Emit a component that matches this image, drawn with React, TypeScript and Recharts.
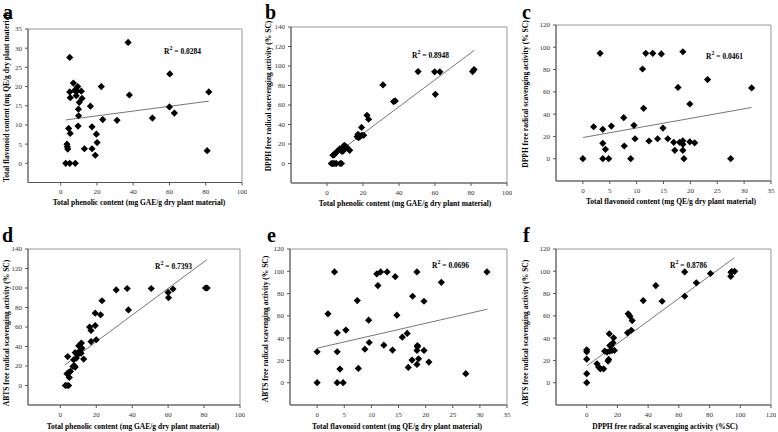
import { ScatterChart, Scatter, XAxis, YAxis, ReferenceLine, ReferenceArea } from "recharts";

type Pt = [number, number];

// a: total phenolic (x) vs total flavonoid (y)
const phenolicVsFlavonoid: Pt[] = [
  [2.8, 0], [5.0, 0], [8.1, 0], [3.5, 5.0], [3.7, 4.3], [3.9, 3.7], [4.4, 9.1], [5.3, 7.8],
  [5.0, 27.6], [5.0, 18.6], [5.3, 17.1], [7.0, 20.9], [7.7, 19.0], [9.0, 18.8], [9.4, 20.0],
  [11.4, 18.8], [8.6, 17.6], [10.3, 15.9], [11.8, 16.9], [9.8, 14.1], [9.9, 12.4], [9.6, 9.7],
  [13.1, 3.8], [16.4, 14.9], [17.3, 9.5], [17.3, 3.8], [19.1, 2.1], [19.7, 7.6], [20.1, 5.4],
  [22.4, 20.0], [23.2, 11.4], [31.1, 11.2], [37.2, 31.5], [37.9, 17.8], [50.6, 11.8],
  [60.0, 14.7], [60.2, 23.3], [62.7, 13.1], [80.8, 3.3], [81.7, 18.6],
];
const trendA: Pt[] = [[2.8, 11.3], [81.7, 16.2]];

// b: total phenolic (x) vs DPPH (y)
const phenolicVsDpph: Pt[] = [
  [2.4, 0], [3.0, 0], [3.7, 0], [4.4, 0], [5.2, 0], [7.3, 0], [8.0, 0],
  [3.3, 8.5], [4.0, 9], [4.6, 10.5], [5.4, 12], [7.0, 15], [7.4, 14], [8.3, 12.5], [8.9, 17],
  [9.6, 18.5], [10.0, 16], [10.7, 17], [11.5, 15.5], [12.6, 13.5], [9.0, 13],
  [16.7, 27.5], [17.2, 30], [17.6, 26.5], [18.5, 28], [19.4, 29], [20.4, 29], [19.2, 37],
  [22.2, 49.5], [23.1, 45.4], [31.1, 80.6], [37.0, 63.5], [37.9, 64.2], [50.6, 94.3],
  [59.8, 94], [62.7, 94], [60.2, 71], [80.9, 94.3], [81.7, 96.3],
];
const trendB: Pt[] = [[2.8, 6.8], [81.8, 116.1]];

// c: total flavonoid (x) vs DPPH (y)
const flavonoidVsDpph: Pt[] = [
  [0, 0], [2.0, 28.7], [3.7, 26.4], [3.7, 13.8], [4.2, 8.4], [3.7, 0], [4.8, 0], [5.3, 29.3],
  [7.6, 36.8], [7.7, 11.4], [8.9, 0], [9.5, 30], [9.7, 17.9], [11.3, 45.2], [12.3, 15.9],
  [13.9, 17.9], [14.9, 27.5], [15.8, 17.9], [16.9, 14.7], [17.1, 7.5], [18.0, 14.7],
  [18.6, 16.1], [18.6, 12.9], [18.6, 7.5], [18.8, 0], [19.9, 15.2], [19.9, 49.1], [20.8, 14.3],
  [27.5, 0], [11.1, 80.5], [11.7, 94.6], [13.0, 94.6], [14.6, 94], [18.6, 96], [3.2, 94.6],
  [17.7, 64], [23.2, 71], [31.4, 63.5],
];
const trendC: Pt[] = [[0, 19], [31.4, 46]];

// d: total phenolic (x) vs ABTS (y)
const phenolicVsAbts: Pt[] = [
  [2.8, 0], [3.7, 0], [4.6, 0], [5.0, 8.2], [3.7, 12], [4.6, 13.3], [5.6, 14.4], [4.1, 29.7],
  [7.0, 19.5], [7.8, 20.2], [8.3, 18.9], [7.4, 26.4], [8.9, 28.1], [9.6, 31.5], [10.2, 33.8],
  [11.1, 35.9], [12.0, 38.3], [8.3, 33.8], [10.2, 40.7], [11.7, 43.5], [11.5, 33.2], [13.0, 27.1],
  [16.3, 59.9], [17.1, 56.4], [17.1, 45.1], [19.4, 61.5], [19.4, 74.2], [20.0, 46.9],
  [22.4, 72.5], [23.2, 86.9], [31.1, 98], [37.2, 99.5], [37.9, 77.5], [50.6, 99.5],
  [60.0, 95.5], [60.2, 90], [62.7, 99], [80.8, 100], [81.7, 100],
];
const trendD: Pt[] = [[2.5, 21], [81.5, 129]];

// e: total flavonoid (x) vs ABTS (y)
const flavonoidVsAbts: Pt[] = [
  [0, 27.8], [0, 0], [2.0, 61.8], [3.2, 99.4], [3.7, 44.8], [3.7, 27.8], [3.7, 0], [4.2, 12.2],
  [4.8, 0], [5.3, 47.2], [7.4, 73.7], [7.6, 12.8], [8.8, 30.1], [9.5, 56.1], [9.6, 36.1],
  [11.0, 97.6], [11.2, 87.2], [11.7, 99.4], [12.3, 33.7], [12.9, 99.4], [13.9, 29.3],
  [14.4, 95.2], [14.7, 60.6], [15.7, 40.9], [16.6, 44.2], [16.8, 13.7], [17.5, 20.3],
  [17.6, 77.6], [18.4, 99.4], [18.5, 33.4], [18.5, 32.2], [18.4, 29], [18.4, 16.4],
  [18.7, 21.5], [19.7, 29], [19.7, 73.1], [20.6, 18.5], [22.9, 90.1], [27.4, 8.1], [31.3, 99.4],
];
const trendE: Pt[] = [[0, 31], [31.4, 66]];

// f: DPPH (x) vs ABTS (y)
const dpphVsAbts: Pt[] = [
  [0, 0], [0, 8.1], [0, 21.1], [0, 27.7], [0, 29.5], [6.7, 17], [7.8, 14], [8.9, 12.5],
  [11, 12.5], [11.7, 28.3], [13.2, 27.4], [13.9, 19.4], [14.3, 20.9], [14.7, 43.9], [15, 33.4],
  [15.8, 33.4], [16.5, 28.9], [17.1, 35.8], [17.5, 40.3], [18, 29], [15, 28.3], [26.6, 44.8],
  [29, 47.1], [27, 61.8], [28.1, 59.7], [29.6, 55.8], [36.8, 73.7], [45, 87.2], [49.1, 73.1],
  [63.8, 99.4], [63.8, 77.6], [80.6, 98], [71.4, 89.6], [93.8, 95.5], [94, 99], [94.3, 99.5],
  [94.6, 99.5], [96.3, 100],
];
const trendF: Pt[] = [[0, 15], [96, 112]];

const SERIF = '"Liberation Serif", "Times New Roman", serif';

const Diamond = (props: any) => {
  const { cx, cy } = props;
  if (cx == null || cy == null) return null;
  const r = 3.6;
  return <path d={`M${cx},${cy - r}L${cx + r},${cy}L${cx},${cy + r}L${cx - r},${cy}Z`} fill="#000" />;
};

interface PanelProps {
  box: [number, number, number, number];
  points: Pt[];
  trend: Pt[];
  xDomain: [number, number];
  xTicks: number[];
  yDomain: [number, number];
  yTicks: number[];
}

const tickStyle = { fontSize: 7, fill: "#333", fontFamily: SERIF };

const Panel = ({ box, points, trend, xDomain, xTicks, yDomain, yTicks }: PanelProps) => {
  const [l, t, w, h] = box;
  const data = points.map(([x, y]) => ({ x, y }));
  return (
    <div style={{ position: "absolute", left: l - 35, top: t - 5 }}>
      <ScatterChart width={w + 40} height={h + 30} margin={{ top: 5, right: 5, bottom: 5, left: 5 }}>
        <ReferenceArea
          x1={xDomain[0]} x2={xDomain[1]} y1={yDomain[0]} y2={yDomain[1]}
          fill="none" stroke="#999" strokeWidth={1} fillOpacity={0}
        />
        <XAxis
          type="number" dataKey="x" domain={xDomain} ticks={xTicks} allowDataOverflow
          height={20} tick={tickStyle} tickSize={3} tickMargin={4}
          stroke="#555" interval={0}
        />
        <YAxis
          type="number" dataKey="y" domain={yDomain} ticks={yTicks} allowDataOverflow
          width={30} tick={tickStyle} tickSize={3} tickMargin={3}
          stroke="#555" interval={0}
        />
        <ReferenceLine
          segment={[{ x: trend[0][0], y: trend[0][1] }, { x: trend[1][0], y: trend[1][1] }]}
          stroke="#777" strokeWidth={1}
        />
        <Scatter data={data} shape={Diamond} isAnimationActive={false} />
      </ScatterChart>
    </div>
  );
};

const Letter = ({ x, y, children }: { x: number; y: number; children: string }) => (
  <div style={{ position: "absolute", left: x, top: y, fontSize: 20, fontWeight: "bold", lineHeight: "24px", fontFamily: SERIF, color: "#000" }}>
    {children}
  </div>
);

const RSq = ({ x, y, value }: { x: number; y: number; value: string }) => (
  <div style={{ position: "absolute", left: x, top: y - 5, fontSize: 7.5, fontWeight: "bold", lineHeight: "10px", fontFamily: SERIF, whiteSpace: "nowrap", color: "#000" }}>
    R<sup style={{ fontSize: 6, verticalAlign: "4px" }}>2</sup> = {value}
  </div>
);

const XTitle = ({ cx, cy, children }: { cx: number; cy: number; children: string }) => (
  <div style={{ position: "absolute", left: cx - 150, top: cy - 5, width: 300, textAlign: "center", fontSize: 7.5, fontWeight: "bold", lineHeight: "10px", fontFamily: SERIF, whiteSpace: "nowrap", color: "#000" }}>
    {children}
  </div>
);

const YTitle = ({ cx, cy, children }: { cx: number; cy: number; children: string }) => (
  <div style={{ position: "absolute", left: cx - 150, top: cy - 5, width: 300, textAlign: "center", fontSize: 7.5, fontWeight: "bold", lineHeight: "10px", fontFamily: SERIF, whiteSpace: "nowrap", transform: "rotate(-90deg)", color: "#000" }}>
    {children}
  </div>
);

const xPhenolic = "Total phenolic content (mg GAE/g dry plant material)";
const xFlavonoid = "Total flavonoid content (mg QE/g dry plant material)";

export default function App() {
  return (
    <div style={{ position: "absolute", left: 0, top: 0, width: 778, height: 432, background: "#fff", overflow: "hidden", color: "#000" }}>
      <Panel box={[28, 29, 214, 153.5]} points={phenolicVsFlavonoid} trend={trendA}
        xDomain={[-18, 100]} xTicks={[0, 20, 40, 60, 80, 100]} yDomain={[-5, 35]} yTicks={[0, 5, 10, 15, 20, 25, 30, 35]} />
      <Panel box={[291, 27, 216, 156]} points={phenolicVsDpph} trend={trendB}
        xDomain={[-20, 100]} xTicks={[0, 20, 40, 60, 80, 100]} yDomain={[-20, 140]} yTicks={[0, 20, 40, 60, 80, 100, 120, 140]} />
      <Panel box={[556, 25, 215, 156]} points={flavonoidVsDpph} trend={trendC}
        xDomain={[-5, 35]} xTicks={[0, 5, 10, 15, 20, 25, 30, 35]} yDomain={[-20, 120]} yTicks={[0, 20, 40, 60, 80, 100, 120]} />
      <Panel box={[28, 249, 212, 156]} points={phenolicVsAbts} trend={trendD}
        xDomain={[-18, 100]} xTicks={[0, 20, 40, 60, 80, 100]} yDomain={[-20, 140]} yTicks={[0, 20, 40, 60, 80, 100, 120, 140]} />
      <Panel box={[290, 249, 217, 156]} points={flavonoidVsAbts} trend={trendE}
        xDomain={[-5, 35]} xTicks={[0, 5, 10, 15, 20, 25, 30, 35]} yDomain={[-20, 120]} yTicks={[0, 20, 40, 60, 80, 100, 120]} />
      <Panel box={[556, 249, 215, 156]} points={dpphVsAbts} trend={trendF}
        xDomain={[-20, 120]} xTicks={[0, 20, 40, 60, 80, 100, 120]} yDomain={[-20, 120]} yTicks={[0, 20, 40, 60, 80, 100, 120]} />

      <Letter x={3} y={0}>a</Letter>
      <Letter x={265} y={0}>b</Letter>
      <Letter x={522} y={0}>c</Letter>
      <Letter x={2} y={223}>d</Letter>
      <Letter x={267} y={223}>e</Letter>
      <Letter x={523} y={223}>f</Letter>

      <RSq x={164} y={48} value="0.0284" />
      <RSq x={412} y={52} value="0.8948" />
      <RSq x={706} y={53} value="0.0461" />
      <RSq x={155} y={263} value="0.7393" />
      <RSq x={432} y={262} value="0.0696" />
      <RSq x={670} y={262} value="0.8786" />

      <XTitle cx={139} cy={203}>{xPhenolic}</XTitle>
      <XTitle cx={405} cy={204}>{xPhenolic}</XTitle>
      <XTitle cx={671} cy={202}>{xFlavonoid}</XTitle>
      <XTitle cx={133} cy={427}>{xPhenolic}</XTitle>
      <XTitle cx={397} cy={427}>{xFlavonoid}</XTitle>
      <XTitle cx={665} cy={427}>DPPH free radical scavenging activity (%SC)</XTitle>

      <YTitle cx={7} cy={97}>{xFlavonoid}</YTitle>
      <YTitle cx={269} cy={96}>DPPH free radical sacevenging activity (% SC)</YTitle>
      <YTitle cx={526} cy={94}>DPPH free radical scavenging activity (% SC)</YTitle>
      <YTitle cx={7} cy={333}>ABTS free radical scavenging activity (% SC)</YTitle>
      <YTitle cx={266} cy={329}>ABTS free radical scavenging activity (% SC)</YTitle>
      <YTitle cx={526} cy={333}>ABTS free radical scavenging activity (% SC)</YTitle>
    </div>
  );
}
